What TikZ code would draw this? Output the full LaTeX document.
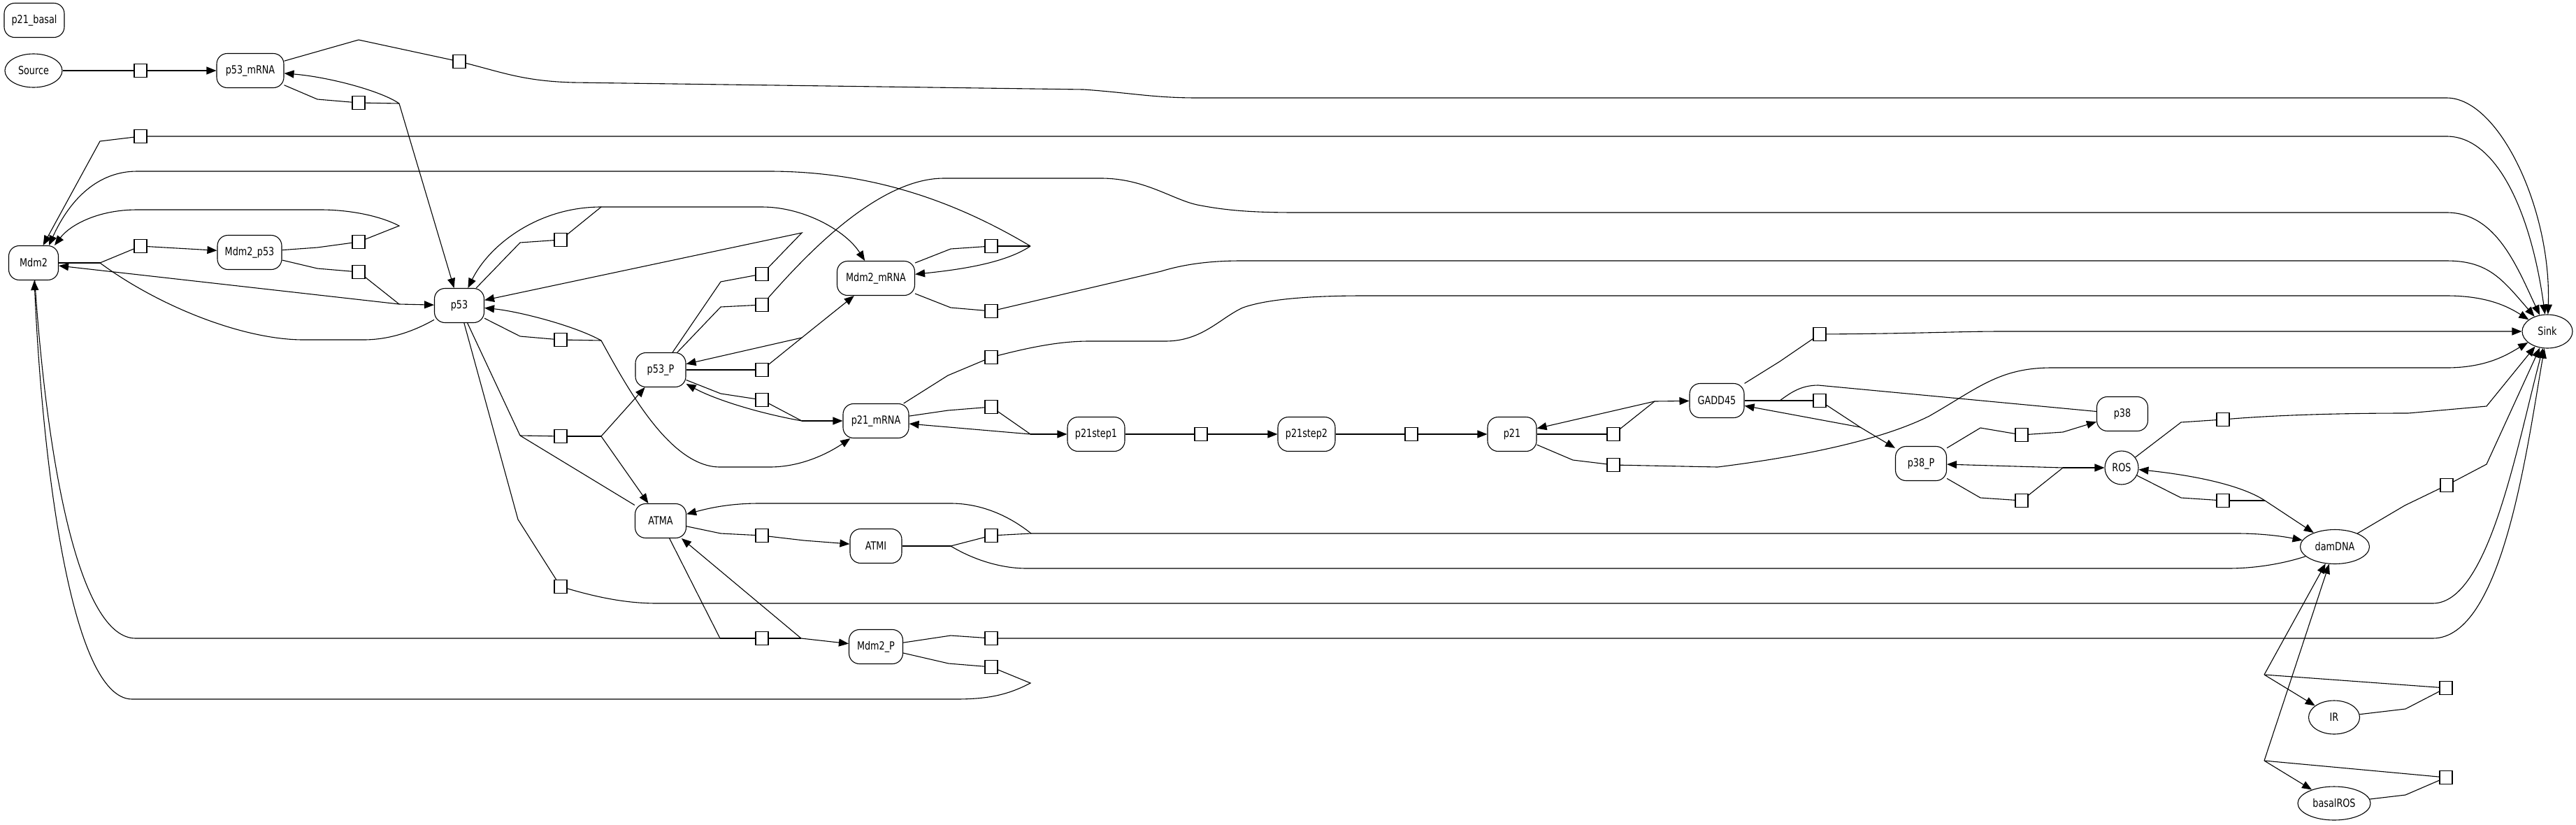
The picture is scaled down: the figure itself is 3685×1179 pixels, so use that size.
\documentclass[tikz,border=0pt]{standalone}
\usepackage{fontspec}
\setmainfont{DejaVu Sans}[FakeStretch=0.8]
\usetikzlibrary{arrows.meta,shapes.geometric}
\begin{document}
\begin{tikzpicture}[x=0.5pt,y=-0.5pt,
  every node/.style={font=\fontsize{8}{9}\selectfont},
  sp/.style={draw, line width=0.55pt, rounded corners=7.5pt, fill=white, minimum height=24.5pt, inner sep=0pt},
  el/.style={draw, line width=0.55pt, ellipse, fill=white, inner sep=0pt},
  rx/.style={draw, line width=0.55pt, fill=white, minimum width=9pt, minimum height=9.5pt, inner sep=0pt},
  ln/.style={line width=0.55pt},
  ar/.style={line width=0.55pt, -{Triangle[length=7pt,width=5.5pt]}}
]
\fill[white] (0,0) rectangle (3685,1179);
\useasboundingbox (0,0) rectangle (3685,1179);

% species
\node[sp, minimum width=43pt] (p21basal) at (49,29) {p21\_basal};
\node[el, minimum width=41pt, minimum height=24pt] (Source) at (48,101) {Source};
\node[sp, minimum width=48pt] (p53mRNA) at (358,101) {p53\_mRNA};
\node[sp, minimum width=35.5pt] (Mdm2) at (48,376) {Mdm2};
\node[sp, minimum width=46pt] (Mdm2p53) at (357,361) {Mdm2\_p53};
\node[sp, minimum width=35.5pt] (p53) at (657,437) {p53};
\node[sp, minimum width=55.5pt] (Mdm2mRNA) at (1253,398) {Mdm2\_mRNA};
\node[sp, minimum width=36pt] (p53P) at (945,529) {p53\_P};
\node[sp, minimum width=47pt] (p21mRNA) at (1253,602) {p21\_mRNA};
\node[sp, minimum width=36.5pt] (ATMA) at (945,745) {ATMA};
\node[sp, minimum width=37pt] (ATMI) at (1253,781) {ATMI};
\node[sp, minimum width=38.5pt] (Mdm2P) at (1253,925) {Mdm2\_P};
\node[sp, minimum width=41pt] (p21step1) at (1568,621) {p21step1};
\node[sp, minimum width=41pt] (p21step2) at (1869,621) {p21step2};
\node[sp, minimum width=35pt] (p21) at (2163,621) {p21};
\node[sp, minimum width=39pt] (GADD45) at (2456,573) {GADD45};
\node[sp, minimum width=36.5pt] (p38) at (3036,592) {p38};
\node[sp, minimum width=36.5pt] (p38P) at (2748,663) {p38\_P};
\node[el, minimum width=24pt, minimum height=24pt] (ROS) at (3035,669) {ROS};
\node[el, minimum width=49.5pt, minimum height=24.5pt] (damDNA) at (3340,782) {damDNA};
\node[el, minimum width=36pt, minimum height=24pt] (Sink) at (3644,474) {Sink};
\node[el, minimum width=36.5pt, minimum height=24pt] (IR) at (3339,1026) {IR};
\node[el, minimum width=52pt, minimum height=24pt] (basalROS) at (3339,1149) {basalROS};

% reaction boxes
\node[rx] (b1) at (201,101) {};
\node[rx] (b2) at (657,88) {};
\node[rx] (b3) at (513,147) {};
\node[rx] (b4) at (201,195) {};
\node[rx] (b5) at (201,352) {};
\node[rx] (b6) at (513,346) {};
\node[rx] (b7) at (513,389) {};
\node[rx] (b8) at (802,343) {};
\node[rx] (b9) at (1090,392) {};
\node[rx] (b10) at (1090,436) {};
\node[rx] (b11) at (802,486) {};
\node[rx] (b12) at (802,624) {};
\node[rx] (b13) at (802,839) {};
\node[rx] (b14) at (1090,913) {};
\node[rx] (b15) at (1418,954) {};
\node[rx] (b16) at (1418,913) {};
\node[rx] (b17) at (1090,766) {};
\node[rx] (b18) at (1418,766) {};
\node[rx] (b19) at (1418,582) {};
\node[rx] (b20) at (1418,511) {};
\node[rx] (b21) at (1418,445) {};
\node[rx] (b22) at (1418,352) {};
\node[rx] (b23) at (1090,529) {};
\node[rx] (b24) at (1090,572) {};
\node[rx] (b25) at (1718,621) {};
\node[rx] (b26) at (2019,621) {};
\node[rx] (b27) at (2308,621) {};
\node[rx] (b28) at (2308,665) {};
\node[rx] (b29) at (2603,478) {};
\node[rx] (b30) at (2603,573) {};
\node[rx] (b31) at (2892,622) {};
\node[rx] (b32) at (2892,716) {};
\node[rx] (b33) at (3180,600) {};
\node[rx] (b34) at (3180,716) {};
\node[rx] (b35) at (3500,694) {};
\node[rx] (b36) at (3499,984) {};
\node[rx] (b37) at (3499,1112) {};

% junctions
\coordinate (j3) at (571,148);
\coordinate (j5) at (143,376);
\coordinate (j6) at (571,323);
\coordinate (j7) at (571,435);
\coordinate (j8) at (860,296);
\coordinate (j9) at (1147,333);
\coordinate (j11) at (860,487);
\coordinate (j12a) at (744,623);
\coordinate (j12b) at (860,624);
\coordinate (j14a) at (1030,913);
\coordinate (j14b) at (1146,913);
\coordinate (j15) at (1474,977);
\coordinate (j18a) at (1360,781);
\coordinate (j18b) at (1475,763);
\coordinate (j19) at (1474,621);
\coordinate (j22) at (1474,352);
\coordinate (j23) at (1147,483);
\coordinate (j24) at (1147,602);
\coordinate (j27) at (2367,574);
\coordinate (j30a) at (2546,573);
\coordinate (j30b) at (2661,611);
\coordinate (j32) at (2951,669);
\coordinate (j34) at (3240,716);
\coordinate (j36) at (3239,965);
\coordinate (j37) at (3239,1088);

% R1
\draw[ln] (Source) -- (b1);
\draw[ar] (b1) -- (p53mRNA);
% R2
\draw[ln] (p53mRNA) -- (513,57) -- (b2);
\draw[ar] (b2) .. controls (720,104) and (750,116) .. (820,118) -- (1550,128) .. controls (1620,133) and (1650,140) .. (1713,140) -- (3500,140) .. controls (3575,140) and (3650,300) .. (Sink);
% R3
\draw[ln] (p53mRNA) -- (454,142) -- (b3);
\draw[ln] (b3) -- (j3);
\draw[ar] (j3) .. controls (545,130) and (470,110) .. (p53mRNA);
\draw[ar] (j3) -- (p53);
% R4
\draw[ar] (b4) -- (143,202) -- (Mdm2);
\draw[ar] (b4) -- (3500,195) .. controls (3570,195) and (3620,300) .. (Sink);
% R5
\draw[ln] (Mdm2) -- (j5);
\draw[ln] (j5) -- (b5);
\draw[ln] (j5) .. controls (230,440) and (350,486) .. (434,486) -- (520,486) .. controls (560,486) and (595,472) .. (p53);
\draw[ar] (b5) -- (Mdm2p53);
% R6
\draw[ln] (Mdm2p53) -- (454,354) -- (b6);
\draw[ar] (b6) -- (j6) .. controls (540,307) and (495,300) .. (459,300) -- (196,300) .. controls (140,300) and (100,322) .. ([xshift=-3pt]Mdm2.north east);
% R7
\draw[ln] (Mdm2p53) -- (454,384) -- (b7);
\draw[ln] (b7) -- (j7);
\draw[ar] (j7) -- (p53);
\draw[ar] (j7) -- (Mdm2);
% R8
\draw[ln] (p53) -- (744,347) -- (b8);
\draw[ln] (b8) -- (j8);
\draw[ar] (j8) .. controls (770,296) and (700,350) .. (p53);
\draw[ar] (j8) -- (1090,296) .. controls (1150,296) and (1210,330) .. (Mdm2mRNA);
% R9
\draw[ln] (p53P) -- (1031,403) -- (b9);
\draw[ar] (b9) -- (j9) -- (p53);
% R10
\draw[ln] (p53P) -- (1031,439) -- (b10);
\draw[ar] (b10) .. controls (1140,380) and (1250,255) .. (1350,255) -- (1575,255) .. controls (1640,255) and (1680,288) .. (1718,294) .. controls (1760,302) and (1800,304) .. (1856,304) -- (3500,304) .. controls (3570,304) and (3600,380) .. (Sink);
% R11
\draw[ln] (p53) -- (744,481) -- (b11);
\draw[ln] (b11) -- (j11);
\draw[ar] (j11) .. controls (820,465) and (740,445) .. (p53);
\draw[ar] (j11) .. controls (900,560) and (960,668) .. (1030,668) -- (1101,668) .. controls (1150,668) and (1190,645) .. (p21mRNA);
% R12
\draw[ln] (p53) -- (j12a);
\draw[ln] (j12a) -- (b12);
\draw[ln] (j12a) -- (ATMA);
\draw[ln] (b12) -- (j12b);
\draw[ar] (j12b) -- (p53P);
\draw[ar] (j12b) -- (ATMA);
% R13
\draw[ln] (p53) -- (741,743) -- (b13);
\draw[ar] (b13) .. controls (860,856) and (900,863) .. (940,863) -- (3480,863) .. controls (3560,863) and (3600,640) .. (Sink);
% R14
\draw[ln] (Mdm2) .. controls (70,700) and (120,913) .. (194,913) -- (j14a);
\draw[ln] (ATMA) -- (j14a);
\draw[ln] (j14a) -- (b14);
\draw[ln] (b14) -- (j14b);
\draw[ar] (j14b) -- (Mdm2P);
\draw[ar] (j14b) -- (ATMA);
% R15
\draw[ln] (Mdm2P) -- (1357,949) -- (b15);
\draw[ar] (b15) -- (j15) .. controls (1440,995) and (1410,1000) .. (1367,1000) -- (189,1000) .. controls (100,1000) and (60,650) .. (Mdm2);
% R16
\draw[ln] (Mdm2P) -- (1360,909) -- (b16);
\draw[ar] (b16) -- (3480,913) .. controls (3580,913) and (3615,640) .. (Sink);
% R17
\draw[ln] (ATMA) -- (1031,763) -- (b17);
\draw[ar] (b17) -- (1150,773) -- (ATMI);
% R18
\draw[ln] (ATMI) -- (j18a);
\draw[ln] (j18a) -- (b18);
\draw[ln] (j18a) .. controls (1400,805) and (1440,813) .. (1468,813) -- (3187,813) .. controls (3230,813) and (3270,805) .. (damDNA);
\draw[ln] (b18) -- (j18b);
\draw[ar] (j18b) -- (3200,763) .. controls (3240,763) and (3270,768) .. (damDNA);
\draw[ar] (j18b) .. controls (1440,735) and (1400,720) .. (1360,720) -- (1086,720) .. controls (1040,720) and (1010,728) .. (ATMA);
% R19
\draw[ln] (p21mRNA) -- (1356,587) -- (b19);
\draw[ln] (b19) -- (j19);
\draw[ar] (j19) -- (p21step1);
\draw[ar] (j19) -- (p21mRNA);
% R20
\draw[ln] (p21mRNA) -- (1356,537) -- (b20);
\draw[ar] (b20) .. controls (1480,495) and (1520,488) .. (1558,488) -- (1667,488) .. controls (1720,488) and (1745,455) .. (1778,440) .. controls (1820,425) and (1900,423) .. (1951,423) -- (3500,423) .. controls (3560,423) and (3590,440) .. (Sink);
% R21
\draw[ln] (Mdm2mRNA) -- (1360,440) -- (b21);
\draw[ar] (b21) -- (1661,388) .. controls (1700,376) and (1740,373) .. (1776,373) -- (3500,373) .. controls (3560,373) and (3580,400) .. (Sink);
% R22
\draw[ln] (Mdm2mRNA) -- (1360,356) -- (b22);
\draw[ln] (b22) -- (j22);
\draw[ar] (j22) .. controls (1440,375) and (1380,385) .. (Mdm2mRNA);
\draw[ar] (j22) .. controls (1370,290) and (1250,245) .. (1100,245) -- (196,245) .. controls (140,245) and (100,285) .. ([xshift=11pt]Mdm2.north);
% R23
\draw[ln] (p53P) -- (b23);
\draw[ln] (b23) -- (j23);
\draw[ar] (j23) -- (Mdm2mRNA);
\draw[ar] (j23) -- (p53P);
% R24
\draw[ln] (p53P) -- (1031,563) -- (b24);
\draw[ln] (b24) -- (j24);
\draw[ar] (j24) -- (p21mRNA);
\draw[ar] (j24) .. controls (1080,590) and (1020,570) .. (p53P);
% R25, R26
\draw[ln] (p21step1) -- (b25);
\draw[ar] (b25) -- (p21step2);
\draw[ln] (p21step2) -- (b26);
\draw[ar] (b26) -- (p21);
% R27
\draw[ln] (p21) -- (b27);
\draw[ln] (b27) -- (j27);
\draw[ar] (j27) -- (GADD45);
\draw[ar] (j27) -- (p21);
% R28
\draw[ln] (p21) -- (2250,658) -- (b28);
\draw[ar] (b28) -- (2457,668) .. controls (2600,650) and (2700,625) .. (2760,595) .. controls (2830,555) and (2860,526) .. (2935,526) -- (3500,526) .. controls (3560,526) and (3590,505) .. (Sink);
% R29
\draw[ln] (GADD45) -- (2546,517) -- (b29);
\draw[ar] (b29) .. controls (2750,477) and (2800,474) .. (2865,474) -- (Sink);
% R30
\draw[ln] (GADD45) -- (b30);
\draw[ln] (p38) -- (2601,551) .. controls (2575,551) and (2560,563) .. (j30a);
\draw[ln] (b30) -- (j30b);
\draw[ar] (j30b) -- (p38P);
\draw[ar] (j30b) -- (GADD45);
% R31
\draw[ln] (p38P) -- (2833,612) -- (b31);
\draw[ar] (b31) -- (2951,618) -- (p38);
% R32
\draw[ln] (p38P) -- (2833,712) -- (b32);
\draw[ln] (b32) -- (j32);
\draw[ar] (j32) -- (ROS);
\draw[ar] (j32) -- (p38P);
% R33
\draw[ln] (ROS) -- (3120,604) -- (b33);
\draw[ar] (b33) .. controls (3280,592) and (3380,591) .. (3445,591) -- (3557,581) -- (Sink);
% R34
\draw[ln] (ROS) -- (3120,712) -- (b34);
\draw[ln] (b34) -- (j34);
\draw[ar] (j34) .. controls (3200,690) and (3120,678) .. (ROS);
\draw[ar] (j34) -- (damDNA);
% R35
\draw[ln] (damDNA) -- (3440,723) -- (b35);
\draw[ar] (b35) -- (3557,664) -- (Sink);
% R36
\draw[ln] (IR) -- (3441,1014) -- (b36);
\draw[ln] (b36) -- (j36);
\draw[ar] (j36) -- (damDNA);
\draw[ar] (j36) -- (IR);
% R37
\draw[ln] (basalROS) -- (3441,1137) -- (b37);
\draw[ln] (b37) -- (j37);
\draw[ar] (j37) -- (damDNA);
\draw[ar] (j37) -- (basalROS);
\end{tikzpicture}
\end{document}
